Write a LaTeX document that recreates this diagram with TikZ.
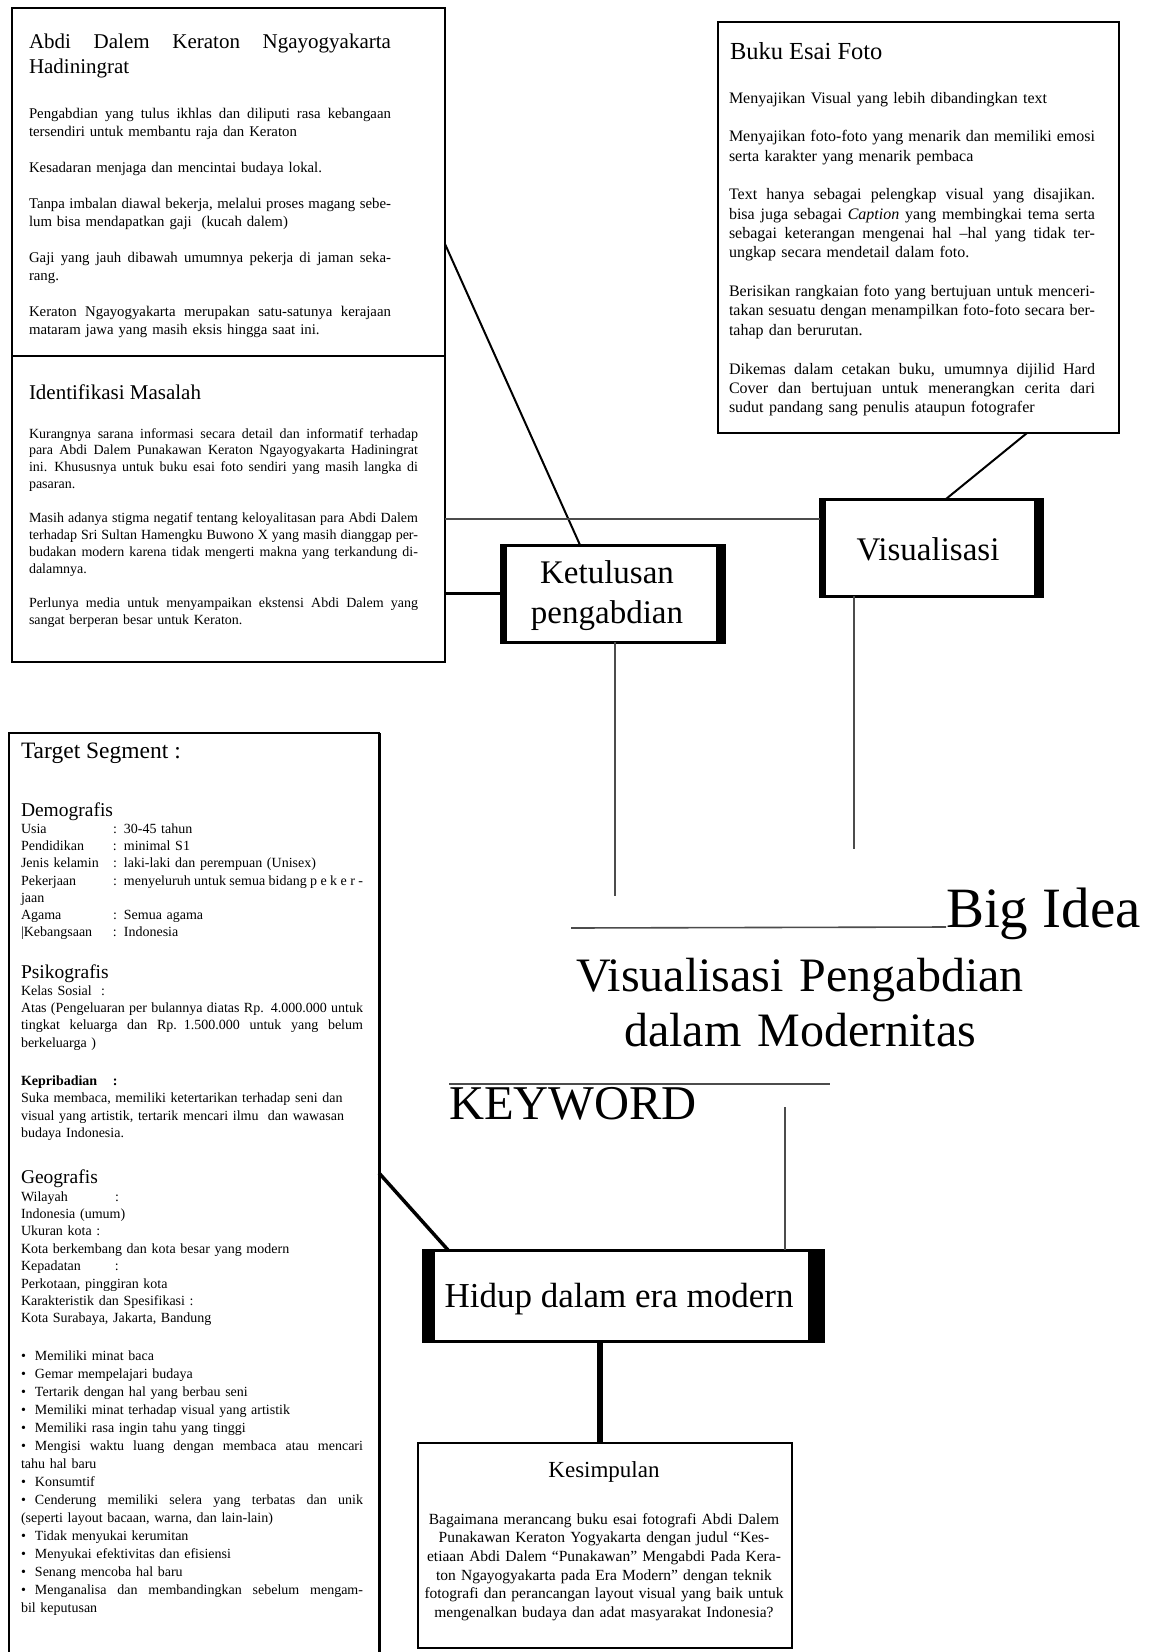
\documentclass[tikz,border=0pt]{standalone}
\usepackage{fontspec}
\setmainfont{Liberation Serif}
\usetikzlibrary{calc}
\newlength\JW
\newcommand\JL[1]{\leavevmode\hbox to\JW{\spaceskip=0.25em plus 3em minus 0.05em\relax #1}\newline}
\newcommand\BU{\makebox[14pt][l]{•}}
\newcommand\LB[2][92pt]{\makebox[#1][l]{#2}}
\begin{document}
\begin{tikzpicture}[x=1pt,y=-1pt,
  box/.style={draw=black, fill=white, line width=2.4pt, inner sep=0pt, outer sep=0pt, anchor=north west},
  txt/.style={inner sep=0pt, outer sep=0pt, anchor=base west, text=black},
  ctxt/.style={inner sep=0pt, outer sep=0pt, anchor=base, text=black},
  thinline/.style={draw=black!70, line width=1.3pt},
  midline/.style={draw=black, line width=2pt}]
\fill[white] (0,0) rectangle (1157,1652);
\useasboundingbox (0,0) rectangle (1157,1652);

% ---------- boxes ----------
\node[box, minimum width=433pt, minimum height=654pt] (tl) at (12,8) {};
\draw[line width=2.4pt] (tl.west |- 0,356) -- (tl.east |- 0,356);
\node[box, line width=2.6pt, minimum width=401pt, minimum height=411pt] (buku) at (718,22) {};
\node[box, line width=3pt, minimum width=223pt, minimum height=97pt] (ketu) at (501,545) {};
\fill (ketu.north west) rectangle ([xshift=6pt]ketu.south west);
\fill (ketu.north east) rectangle ([xshift=-8pt]ketu.south east);
\node[box, line width=3pt, minimum width=222pt, minimum height=97pt] (visu) at (820,499) {};
\fill (visu.north west) rectangle ([xshift=6pt]visu.south west);
\fill (visu.north east) rectangle ([xshift=-8pt]visu.south east);
\node[box, line width=2.4pt, minimum width=370pt, minimum height=930pt] (target) at (9,733) {};
\draw[line width=3pt] (target.north east) -- (target.south east);
\node[box, line width=3pt, minimum width=400pt, minimum height=91pt] (hidup) at (423,1250) {};
\fill (hidup.north west) rectangle ([xshift=12pt]hidup.south west);
\fill (hidup.north east) rectangle ([xshift=-15pt]hidup.south east);
\node[box, line width=2.2pt, minimum width=374pt, minimum height=205pt] (kes) at (418,1443) {};

% ---------- connectors ----------
\draw[midline] (tl.east |- 0,244) -- (ketu.north -| 580,0);
\draw[thinline, line width=1.6pt] (tl.east |- 0,519) -- (visu.west |- 0,519);
\draw[line width=3pt] (tl.east |- 0,593) -- (ketu.west |- 0,593);
\draw[midline] (buku.south -| 1027,0) -- (visu.north -| 946,0);
\coordinate (kdown) at (615,896);
\draw[thinline] (ketu.south -| 615,0) -- (kdown);
\coordinate (vdown) at (854,849);
\draw[thinline] (visu.south -| 854,0) -- (vdown);
\coordinate (kwtop) at (785,1107);
\draw[thinline] (kwtop) -- (hidup.north -| 785,0);
\draw[line width=3.5pt] (target.east |- 0,1173) -- (hidup.north -| 448,0);
\draw[line width=5.5pt] (hidup.south -| 600,0) -- (kes.north -| 600,0);

% ---------- big idea / keyword ----------
\node[txt, font=\fontsize{57}{60}\selectfont] (bigidea) at (946,927) {Big Idea};
\coordinate (bigl) at (571,928);
\draw[thinline, line width=1.6pt] (bigl) -- (bigidea.base west);
\node[ctxt, font=\fontsize{48}{55}\selectfont, text width=560pt, align=center] (idea) at (800,991)
  {Visualisasi Pengabdian\\dalam Modernitas};
\node[txt, font=\fontsize{48.5}{52}\selectfont] (kw) at (449,1119) {KEYWORD};
\coordinate (kwr) at (830,1084);
\draw[thinline, line width=1.5pt] (kw.north west |- kwr) -- (kwr);

% ---------- box labels ----------
\node[ctxt, font=\fontsize{33}{40}\selectfont, text width=210pt, align=center] (ketut) at (607,583)
  {Ketulusan\\pengabdian};
\node[ctxt, font=\fontsize{33}{40}\selectfont] (visut) at (928,560) {Visualisasi};
\node[ctxt, font=\fontsize{35}{40}\selectfont] (hidupt) at (619,1307) {Hidup dalam era modern};

% ---------- top-left box ----------
\node[txt, font=\fontsize{21}{25}\selectfont, text width=362pt] (tlhead) at (29,48)
  {\setlength\JW{362pt}\JL{Abdi Dalem Keraton Ngayogyakarta}Hadiningrat};
\node[txt, font=\fontsize{14.8}{18}\selectfont, text width=362pt] (tlbody) at (29,118)
  {\setlength\JW{362pt}\setlength\parskip{18pt}\JL{Pengabdian yang tulus ikhlas dan diliputi rasa kebangaan}tersendiri untuk membantu raja dan Keraton\par
   Kesadaran menjaga dan mencintai budaya lokal.\par
   \JL{Tanpa imbalan diawal bekerja, melalui proses magang sebe-}lum bisa mendapatkan gaji~ (kucah dalem)\par
   \JL{Gaji yang jauh dibawah umumnya pekerja di jaman seka-}rang.\par
   \JL{Keraton Ngayogyakarta merupakan satu-satunya kerajaan}mataram jawa yang masih eksis hingga saat ini.};
\node[txt, font=\fontsize{21}{25}\selectfont] (idhead) at (29,399) {Identifikasi Masalah};
\node[txt, font=\fontsize{14}{16.9}\selectfont, text width=389pt] (idbody) at (29,438)
  {\setlength\JW{389pt}\setlength\parskip{17pt}\JL{Kurangnya sarana informasi secara detail dan informatif terhadap}\JL{para Abdi Dalem Punakawan Keraton Ngayogyakarta Hadiningrat}\JL{ini. Khususnya untuk buku esai foto sendiri yang masih langka di}pasaran.\par
   \JL{Masih adanya stigma negatif tentang keloyalitasan para Abdi Dalem}\JL{terhadap Sri Sultan Hamengku Buwono X yang masih dianggap per-}\JL{budakan modern karena tidak mengerti makna yang terkandung di-}dalamnya.\par
   \JL{Perlunya media untuk menyampaikan ekstensi Abdi Dalem yang}sangat berperan besar untuk Keraton.};

% ---------- Buku Esai Foto ----------
\node[txt, font=\fontsize{24.5}{28}\selectfont] (bukuhead) at (730,59) {Buku Esai Foto};
\node[txt, font=\fontsize{16}{19.3}\selectfont, text width=366pt] (bukubody) at (729,103)
  {\setlength\JW{366pt}\setlength\parskip{19.5pt}Menyajikan Visual yang lebih dibandingkan text\par
   \JL{Menyajikan foto-foto yang menarik dan memiliki emosi}serta karakter yang menarik pembaca\par
   \JL{Text hanya sebagai pelengkap visual yang disajikan.}\JL{bisa juga sebagai \textit{Caption} yang membingkai tema serta}\JL{sebagai keterangan mengenai hal –hal yang tidak ter-}ungkap secara mendetail dalam foto.\par
   \JL{Berisikan rangkaian foto yang bertujuan untuk menceri-}\JL{takan sesuatu dengan menampilkan foto-foto secara ber-}tahap dan berurutan.\par
   \JL{Dikemas dalam cetakan buku, umumnya dijilid Hard}\JL{Cover dan bertujuan untuk menerangkan cerita dari}sudut pandang sang penulis ataupun fotografer};

% ---------- Target Segment ----------
\node[txt, font=\fontsize{23.5}{27}\selectfont] (tghead) at (21,758) {Target Segment :};
\node[txt, font=\fontsize{19.5}{23}\selectfont] (demo) at (21,816) {Demografis};
\node[txt, font=\fontsize{14}{17.33}\selectfont, text width=342pt] (demob) at (21,833)
  {\setlength\JW{342pt}\LB{Usia}: 30-45 tahun\\
   \LB{Pendidikan}: minimal S1\\
   \LB{Jenis kelamin}: laki-laki dan perempuan (Unisex)\\
   \JL{\LB{Pekerjaan}: menyeluruh untuk semua bidang p e k e r -}jaan\\
   \LB{Agama}: Semua agama\\
   \LB{|Kebangsaan}: Indonesia};
\node[txt, font=\fontsize{19.5}{23}\selectfont] (psiko) at (21,978) {Psikografis};
\node[txt, font=\fontsize{14}{17.33}\selectfont, text width=342pt] (psikob) at (21,995)
  {\setlength\JW{342pt}Kelas Sosial~~:\\
   \JL{Atas (Pengeluaran per bulannya diatas Rp. 4.000.000 untuk}\JL{tingkat keluarga dan Rp. 1.500.000 untuk yang belum}berkeluarga )};
\node[txt, font=\fontsize{14}{17.6}\selectfont, text width=342pt] (kepri) at (21,1085)
  {\LB{\textbf{Kepribadian}}\textbf{:}\\
   Suka membaca, memiliki ketertarikan terhadap seni dan\\
   visual yang artistik, tertarik mencari ilmu~ dan wawasan\\
   budaya Indonesia.};
\node[txt, font=\fontsize{19.5}{23}\selectfont] (geo) at (21,1183) {Geografis};
\node[txt, font=\fontsize{14}{17.4}\selectfont, text width=342pt] (geob) at (21,1201)
  {\LB[94pt]{Wilayah}:\\
   Indonesia (umum)\\
   Ukuran kota~:\\
   Kota berkembang dan kota besar yang modern\\
   \LB[94pt]{Kepadatan}:\\
   Perkotaan, pinggiran kota\\
   Karakteristik dan Spesifikasi :\\
   Kota Surabaya, Jakarta, Bandung};
\node[txt, font=\fontsize{14}{18.07}\selectfont, text width=342pt] (bullets) at (21,1360)
  {\setlength\JW{342pt}\BU Memiliki minat baca\\
   \BU Gemar mempelajari budaya\\
   \BU Tertarik dengan hal yang berbau seni\\
   \BU Memiliki minat terhadap visual yang artistik\\
   \BU Memiliki rasa ingin tahu yang tinggi\\
   \JL{\BU Mengisi waktu luang dengan membaca atau mencari}tahu hal baru\\
   \BU Konsumtif\\
   \JL{\BU Cenderung memiliki selera yang terbatas dan unik}(seperti layout bacaan, warna, dan lain-lain)\\
   \BU Tidak menyukai kerumitan\\
   \BU Menyukai efektivitas dan efisiensi\\
   \BU Senang mencoba hal baru\\
   \JL{\BU Menganalisa dan membandingkan sebelum mengam-}bil keputusan};

% ---------- Kesimpulan ----------
\node[ctxt, font=\fontsize{23}{27}\selectfont] (keshead) at (604,1477) {Kesimpulan};
\node[ctxt, font=\fontsize{15.5}{18.7}\selectfont, text width=380pt, align=center] (kesbody) at (604,1524)
  {Bagaimana merancang buku esai fotografi Abdi Dalem\\
   Punakawan Keraton Yogyakarta dengan judul “Kes-\\
   etiaan Abdi Dalem “Punakawan” Mengabdi Pada Kera-\\
   ton Ngayogyakarta pada Era Modern” dengan teknik\\
   fotografi dan perancangan layout visual yang baik untuk\\
   mengenalkan budaya dan adat masyarakat Indonesia?};
\end{tikzpicture}
\end{document}
